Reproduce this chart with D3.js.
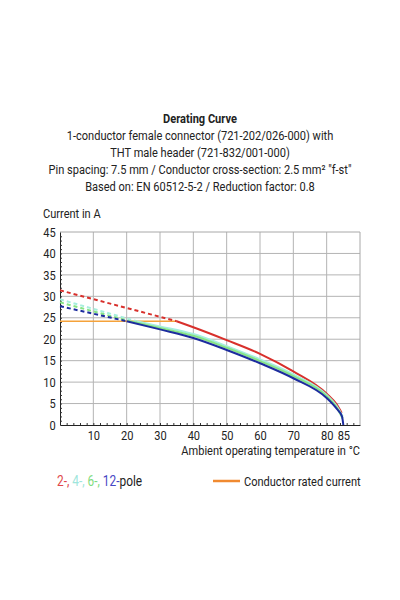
<!DOCTYPE html>
<html>
<head>
<meta charset="utf-8">
<script src="https://cdn.jsdelivr.net/npm/d3@7"></script>
<style>
  body { margin: 0; background: #fff; }
  text { font-family: "Roboto", "Liberation Sans", sans-serif; fill: #222; }
</style>
</head>
<body>
<svg id="chart" width="400" height="600"></svg>
<script>
// title lines
const titleLines = [
  "Derating Curve",
  "1-conductor female connector (721-202/026-000) with",
  "THT male header (721-832/001-000)",
  "Pin spacing: 7.5 mm / Conductor cross-section: 2.5 mm² \"f-st\"",
  "Based on: EN 60512-5-2 / Reduction factor: 0.8"
];

const xTicks = [10, 20, 30, 40, 50, 60, 70, 80, 85];
const yTicks = [0, 5, 10, 15, 20, 25, 30, 35, 40, 45];

// [temperature, current]
const rated = [[0, 24.2], [35, 24.2]];

const pole2Dashed = [[0, 31.4], [35, 24.2]];
const pole2 = [[35, 24.2], [40, 22.8], [50, 19.8], [60, 16.6], [70, 12.5], [80, 7.3], [83, 4.8], [84.5, 2.8]];

const pole4Dashed = [[0, 29.3], [23, 24.2]];
const pole4 = [[23, 24.2], [30, 23.0], [40, 21.2], [50, 18.4], [60, 15.3], [70, 11.8], [80, 7.0], [83, 4.4], [84.8, 2]];

const pole6Dashed = [[0, 28.6], [21, 24.2]];
const pole6 = [[21, 24.2], [30, 22.6], [40, 20.8], [50, 18.0], [60, 14.9], [70, 11.4], [80, 6.7], [83, 4.1], [84.8, 1.5]];

const pole12Dashed = [[0, 27.7], [20, 24.2]];
const pole12 = [[20, 24.2], [30, 22.3], [40, 20.3], [50, 17.5], [60, 14.4], [70, 10.9], [80, 6.3], [83, 3.8], [84.6, 2], [85, 0]];

const series = [
  {name: "2-", color: "#d8302c", text: "#e0484a", dashed: pole2Dashed, solid: pole2},
  {name: "4-", color: "#a6eedd", text: "#9fe6dc", dashed: pole4Dashed, solid: pole4},
  {name: "6-", color: "#86e486", text: "#7fdc7f", dashed: pole6Dashed, solid: pole6},
  {name: "12-", color: "#1c2c9e", text: "#4646c4", dashed: pole12Dashed, solid: pole12}
];

const narrow = 0.85; // no condensed font installed, squeeze Roboto instead

const svg = d3.select("#chart");
const margin = {left: 60, top: 232, right: 40, bottom: 175};
const width = 400 - margin.left - margin.right;
const height = 600 - margin.top - margin.bottom;

const x = d3.scaleLinear().domain([0, 90]).range([margin.left, margin.left + width]);
const y = d3.scaleLinear().domain([0, 45]).range([margin.top + height, margin.top]);

// put a text at (tx, ty) squeezed horizontally
function label(tx, ty, size) {
  return svg.append("text")
    .attr("transform", `translate(${tx},${ty}) scale(${narrow},1)`)
    .attr("font-size", size);
}

// titles
titleLines.forEach((t, i) => {
  label(200, 123 + i * 17, 13)
    .attr("text-anchor", "middle")
    .attr("font-weight", i === 0 ? "bold" : "normal")
    .text(t);
});

label(43, 218, 13).text("Current in A");

// grid
svg.append("g")
  .selectAll("line")
  .data(d3.range(10, 90, 10))
  .join("line")
  .attr("x1", d => x(d)).attr("x2", d => x(d))
  .attr("y1", y(0)).attr("y2", y(45))
  .attr("stroke", "#b4b4b4");

svg.append("g")
  .selectAll("line")
  .data(yTicks.slice(1, -1))
  .join("line")
  .attr("x1", x(0)).attr("x2", x(90))
  .attr("y1", d => y(d)).attr("y2", d => y(d))
  .attr("stroke", "#b4b4b4");

// frame top/right
svg.append("path")
  .attr("d", `M${x(0)},${y(45)}H${x(90)}V${y(0)}`)
  .attr("fill", "none")
  .attr("stroke", "#a8a8a8");

// axes
const xAxis = svg.append("g")
  .attr("transform", `translate(0,${y(0)})`)
  .call(d3.axisBottom(x).tickValues(xTicks).tickSize(0).tickPadding(6).tickFormat(d3.format("d")));
xAxis.select(".domain").attr("stroke", "#222");
xAxis.selectAll("text")
  .attr("font-size", 13).attr("font-family", null)
  .attr("transform", `scale(${narrow},1)`);

svg.append("g")
  .attr("transform", `translate(0,${y(0)})`)
  .call(d3.axisBottom(x).tickValues(d3.range(2, 90, 2)).tickSize(-2).tickFormat(""))
  .call(g => g.select(".domain").remove())
  .selectAll("line").attr("stroke", "#333");

const yAxis = svg.append("g")
  .attr("transform", `translate(${x(0)},0)`)
  .call(d3.axisLeft(y).tickValues(yTicks).tickSize(0).tickPadding(5));
yAxis.select(".domain").attr("stroke", "#222");
yAxis.selectAll("text")
  .attr("font-size", 13).attr("font-family", null)
  .attr("transform", `scale(${narrow},1)`);

svg.append("g")
  .attr("transform", `translate(${x(0)},0)`)
  .call(d3.axisLeft(y).tickValues(d3.range(1, 45, 1)).tickSize(-2).tickFormat(""))
  .call(g => g.select(".domain").remove())
  .selectAll("line").attr("stroke", "#333");

label(x(90), y(0) + 30, 13)
  .attr("text-anchor", "end")
  .text("Ambient operating temperature in °C");

// curves
const line = d3.line()
  .x(d => x(d[0]))
  .y(d => y(d[1]))
  .curve(d3.curveMonotoneX);

svg.append("path")
  .attr("d", line(rated))
  .attr("fill", "none")
  .attr("stroke", "#f5a23a")
  .attr("stroke-width", 1.5);

const curves = svg.append("g");
series.forEach(s => {
  curves.append("path")
    .attr("d", line(s.dashed))
    .attr("fill", "none")
    .attr("stroke", s.color)
    .attr("stroke-width", 2)
    .attr("stroke-dasharray", "4,3");
  curves.append("path")
    .attr("d", line(s.solid))
    .attr("fill", "none")
    .attr("stroke", s.color)
    .attr("stroke-width", 2);
});

// legend
const legendText = label(57, 486, 14);
series.forEach((s, i) => {
  legendText.append("tspan").attr("fill", s.text).text(s.name);
  if (i < series.length - 1) legendText.append("tspan").attr("fill", s.text).text(", ");
});
legendText.append("tspan").text("pole");

svg.append("line")
  .attr("x1", 213).attr("x2", 240)
  .attr("y1", 481).attr("y2", 481)
  .attr("stroke", "#f08a30")
  .attr("stroke-width", 2.5);

label(244, 486, 13).text("Conductor rated current");
</script>
</body>
</html>
